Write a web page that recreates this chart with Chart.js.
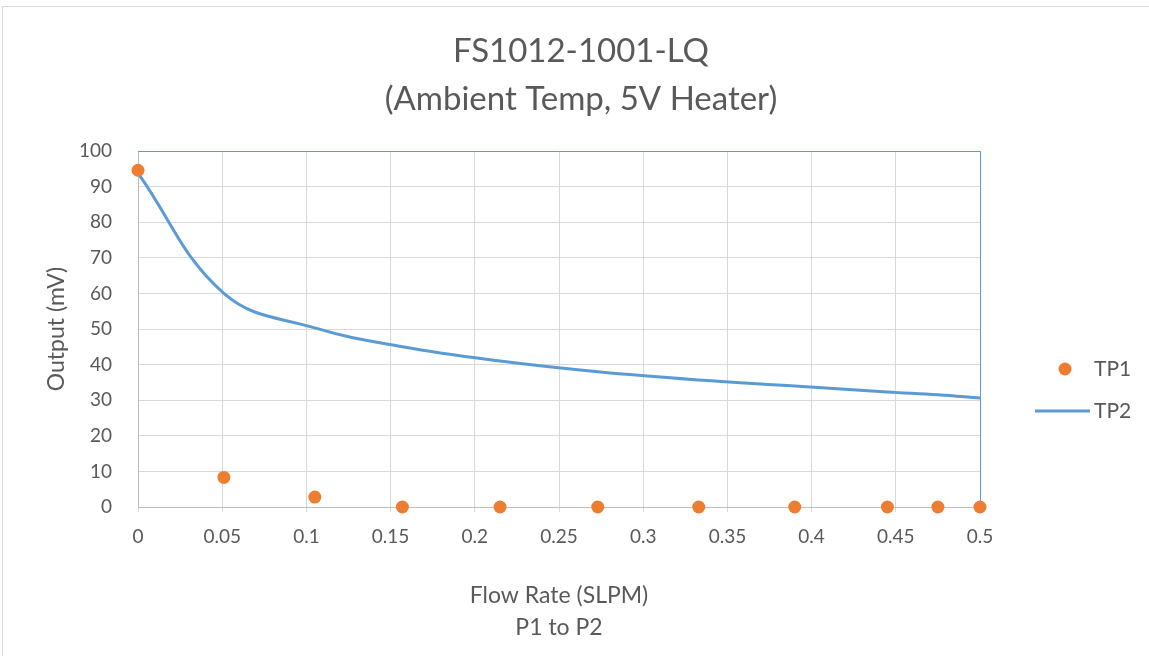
<!DOCTYPE html>
<html>
<head>
<meta charset="utf-8">
<script src="https://cdn.jsdelivr.net/npm/chart.js@4.4.0/dist/chart.umd.min.js"></script>
<style>
  html, body { margin: 0; padding: 0; background: #fff; overflow: hidden; }
  #frame { position: absolute; left: 2px; top: 6px; width: 1200px; height: 700px; border: 1px solid #d9d9d9; }
  #chart { position: absolute; left: 0; top: 0; }
</style>
</head>
<body>
<div id="frame"></div>
<canvas id="chart" width="1149" height="656"></canvas>
<script>
// flow rate (SLPM) readings
const flowRate = [0, 0.051, 0.105, 0.157, 0.215, 0.273, 0.333, 0.39, 0.445, 0.475, 0.5];
// output (mV)
const tp1 = [94.6, 8.3, 2.8, 0, 0, 0, 0, 0, 0, 0, 0];
const tp2 = [93.8, 60, 50.3, 45, 41, 38, 35.7, 34, 32.3, 31.5, 30.6];
const xTickLabels = ['0', '0.05', '0.1', '0.15', '0.2', '0.25', '0.3', '0.35', '0.4', '0.45', '0.5'];
const seriesNames = ['TP1', 'TP2'];

const orange = '#ed7d31';
const blue = '#5b9bd5';
const textGray = '#595959';

Chart.defaults.font.family = 'Lato';
Chart.defaults.color = textGray;

// blue frame on top and right of plot area, like excel
const plotFrame = {
    id: 'plotFrame',
    beforeDatasetsDraw(chart) {
        let a = chart.chartArea;
        let ctx = chart.ctx;
        ctx.save();
        ctx.strokeStyle = blue;
        ctx.lineWidth = 1;
        ctx.beginPath();
        ctx.moveTo(a.left, a.top + 0.5);
        ctx.lineTo(a.right + 0.5, a.top + 0.5);
        ctx.lineTo(a.right + 0.5, a.bottom);
        ctx.stroke();
        ctx.restore();
    }
};

// legend on the right, one dot and one line
const sideLegend = {
    id: 'sideLegend',
    afterDraw(chart) {
        let ctx = chart.ctx;
        let ds = chart.data.datasets;
        let x0 = chart.chartArea.right;
        ctx.save();
        ctx.fillStyle = ds[0].backgroundColor;
        ctx.beginPath();
        ctx.arc(x0 + 85, 369, 6.5, 0, Math.PI * 2);
        ctx.fill();
        ctx.strokeStyle = ds[1].borderColor;
        ctx.lineWidth = 3;
        ctx.beginPath();
        ctx.moveTo(x0 + 55, 411);
        ctx.lineTo(x0 + 110, 411);
        ctx.stroke();
        ctx.fillStyle = textGray;
        ctx.font = '21px Lato';
        ctx.textBaseline = 'middle';
        ctx.fillText(ds[0].label, x0 + 114, 369);
        ctx.fillText(ds[1].label, x0 + 114, 411);
        ctx.restore();
    }
};

let ctx = document.getElementById('chart').getContext('2d');
let chart = new Chart(ctx, {
    type: 'scatter',
    data: {
        datasets: [{
            label: seriesNames[0],
            data: flowRate.map((x, i) => ({ x: x, y: tp1[i] })),
            backgroundColor: orange,
            borderColor: orange,
            pointRadius: 6.5,
            pointBorderWidth: 0,
            clip: false
        }, {
            label: seriesNames[1],
            data: flowRate.map((x, i) => ({ x: x, y: tp2[i] })),
            showLine: true,
            borderColor: blue,
            backgroundColor: blue,
            borderWidth: 3,
            pointRadius: 0,
            tension: 0.4
        }]
    },
    options: {
        responsive: false,
        animation: false,
        layout: { padding: { left: 13, right: 0, top: 7, bottom: 10 } },
        plugins: {
            legend: { display: false },
            tooltip: { enabled: false },
            title: {
                display: true,
                text: ['FS1012-1001-LQ', '(Ambient Temp, 5V Heater)'],
                color: textGray,
                font: { size: 33, weight: 'normal', lineHeight: '48px' },
                padding: { top: 20, bottom: 28 }
            }
        },
        scales: {
            x: {
                type: 'linear',
                min: 0,
                max: 0.5,
                ticks: {
                    stepSize: 0.05,
                    autoSkip: false,
                    maxRotation: 0,
                    padding: 13,
                    font: { size: 19 },
                    callback: (v, i) => xTickLabels[i]
                },
                grid: { color: '#d9d9d9', tickColor: '#d9d9d9', tickLength: 5 },
                border: { color: '#bfbfbf' },
                title: {
                    display: true,
                    text: ['Flow Rate (SLPM)', 'P1 to P2'],
                    font: { size: 23, lineHeight: '32px' },
                    padding: { top: 0, bottom: 2 }
                },
                afterFit: s => { s.height = 139; }
            },
            y: {
                min: 0,
                max: 100,
                ticks: { stepSize: 10, padding: 26, font: { size: 19 } },
                grid: { color: '#d9d9d9', drawTicks: false },
                border: { color: '#bfbfbf' },
                title: {
                    display: true,
                    text: 'Output (mV)',
                    font: { size: 23 },
                    padding: { top: 30, bottom: 0 }
                },
                afterFit: s => { s.width = 125; }
            },
            spacer: {
                type: 'linear',
                axis: 'y',
                position: 'right',
                grid: { display: false },
                border: { display: false },
                ticks: { display: false },
                afterFit: s => { s.width = 169; }
            }
        }
    },
    plugins: [plotFrame, sideLegend]
});
</script>
</body>
</html>
